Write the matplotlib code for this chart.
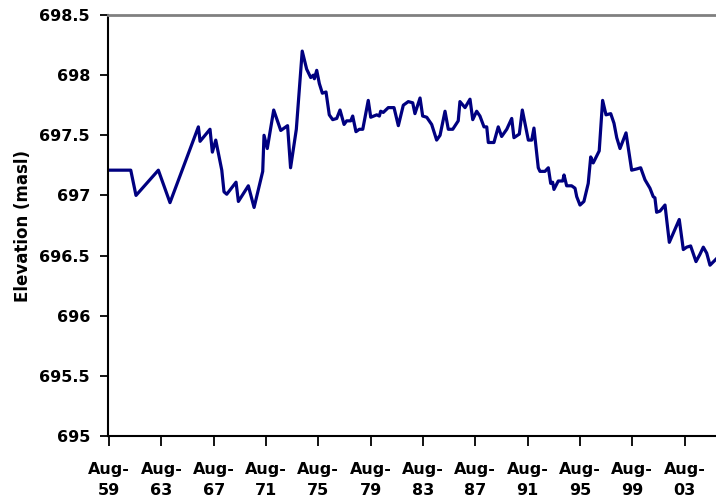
import numpy as np
import matplotlib
matplotlib.use("Agg")
import matplotlib.pyplot as plt

# decimal year of each reading and the lake elevation (masl)
years = [1959.58, 1961.24, 1961.64, 1963.35, 1964.24, 1966.41, 1966.54, 1967.30,
         1967.48, 1967.74, 1968.20, 1968.37, 1968.58, 1969.29, 1969.47, 1970.23,
         1970.67, 1971.33, 1971.43, 1971.68, 1972.17, 1972.71, 1973.23, 1973.46,
         1973.90, 1974.35, 1974.69, 1975.00, 1975.20, 1975.28, 1975.46, 1975.66,
         1975.89, 1976.17, 1976.42, 1976.68, 1976.99, 1977.24, 1977.55, 1977.75,
         1978.06, 1978.21, 1978.46, 1978.72, 1978.98, 1979.40, 1979.59, 1980.05,
         1980.25, 1980.35, 1980.55, 1980.93, 1981.37, 1981.70, 1982.08, 1982.46,
         1982.80, 1982.97, 1983.36, 1983.56, 1983.87, 1984.25, 1984.63, 1984.89,
         1985.27, 1985.52, 1985.86, 1986.28, 1986.41, 1986.80, 1987.18, 1987.39,
         1987.69, 1987.94, 1988.25, 1988.46, 1988.58, 1989.01, 1989.34, 1989.60,
         1989.99, 1990.37, 1990.54, 1990.95, 1991.18, 1991.64, 1991.90, 1992.07,
         1992.40, 1992.53, 1992.91, 1993.17, 1993.35, 1993.50, 1993.60, 1993.93,
         1994.27, 1994.37, 1994.57, 1994.95, 1995.21, 1995.34, 1995.59, 1995.89,
         1996.22, 1996.41, 1996.60, 1997.06, 1997.32, 1997.58, 1997.94, 1998.19,
         1998.40, 1998.65, 1999.11, 1999.54, 1999.92, 2000.23, 2000.56, 2000.94,
         2001.19, 2001.32, 2001.45, 2001.71, 2002.09, 2002.42, 2002.78, 2003.18,
         2003.49, 2003.75, 2004.05, 2004.46, 2004.76, 2005.02, 2005.28, 2005.53,
         2005.99]

elevation = [697.21, 697.21, 697.00, 697.21, 696.94, 697.57, 697.45, 697.55,
             697.36, 697.46, 697.21, 697.03, 697.01, 697.11, 696.95, 697.08,
             696.90, 697.20, 697.50, 697.39, 697.71, 697.54, 697.58, 697.23,
             697.55, 698.20, 698.05, 697.98, 698.00, 697.97, 698.04, 697.93,
             697.85, 697.86, 697.67, 697.63, 697.64, 697.71, 697.59, 697.62,
             697.62, 697.66, 697.53, 697.55, 697.55, 697.79, 697.65, 697.67,
             697.66, 697.70, 697.69, 697.73, 697.73, 697.58, 697.75, 697.78,
             697.77, 697.68, 697.81, 697.66, 697.65, 697.59, 697.46, 697.50,
             697.70, 697.55, 697.55, 697.62, 697.78, 697.73, 697.80, 697.63,
             697.70, 697.66, 697.57, 697.57, 697.44, 697.44, 697.57, 697.49,
             697.55, 697.64, 697.48, 697.51, 697.71, 697.46, 697.46, 697.56,
             697.23, 697.20, 697.20, 697.23, 697.10, 697.11, 697.05, 697.12,
             697.12, 697.17, 697.08, 697.08, 697.06, 696.99, 696.92, 696.95,
             697.10, 697.32, 697.27, 697.37, 697.79, 697.67, 697.68, 697.60,
             697.48, 697.39, 697.52, 697.21, 697.22, 697.23, 697.13, 697.06,
             696.99, 696.98, 696.86, 696.87, 696.92, 696.61, 696.70, 696.80,
             696.55, 696.57, 696.58, 696.45, 696.51, 696.57, 696.52, 696.42,
             696.47]

tick_years = [1959, 1963, 1967, 1971, 1975, 1979, 1983, 1987, 1991, 1995, 1999, 2003]
tick_labels = ["Aug-\n59", "Aug-\n63", "Aug-\n67", "Aug-\n71", "Aug-\n75", "Aug-\n79",
               "Aug-\n83", "Aug-\n87", "Aug-\n91", "Aug-\n95", "Aug-\n99", "Aug-\n03"]
y_ticks = [695, 695.5, 696, 696.5, 697, 697.5, 698, 698.5]
y_labels = ["695", "695.5", "696", "696.5", "697", "697.5", "698", "698.5"]

plt.rcParams['font.family'] = ['DejaVu Sans']

fig = plt.figure(figsize=(7.16, 5.04), dpi=100)
ax = fig.add_axes([108 / 716, 68 / 504, 1 - 108 / 716, 421 / 504])

ax.plot(years, elevation, color="#000080", linewidth=2.3)

ax.set_xlim(1959.5, 2005.99)
ax.set_ylim(695, 698.5)

# ticks sit on August of each labelled year
ax.set_xticks([y + 7 / 12 for y in tick_years])
ax.set_xticklabels(tick_labels, fontsize=11.5, fontweight="bold", linespacing=1.45)
ax.set_yticks(y_ticks)
ax.set_yticklabels(y_labels, fontsize=11.5, fontweight="bold")

ax.tick_params(axis="x", direction="out", length=7, width=1.3, pad=12)
ax.tick_params(axis="y", direction="out", length=6, width=1.3, pad=7)

ax.spines["right"].set_visible(False)
ax.spines["top"].set_color("#808080")
ax.spines["top"].set_linewidth(2)
ax.spines["left"].set_linewidth(1.5)
ax.spines["bottom"].set_linewidth(1.5)

ax.set_ylabel("Elevation (masl)", fontsize=12, fontweight="bold", labelpad=5)

fig.savefig("out.png", dpi=100)
